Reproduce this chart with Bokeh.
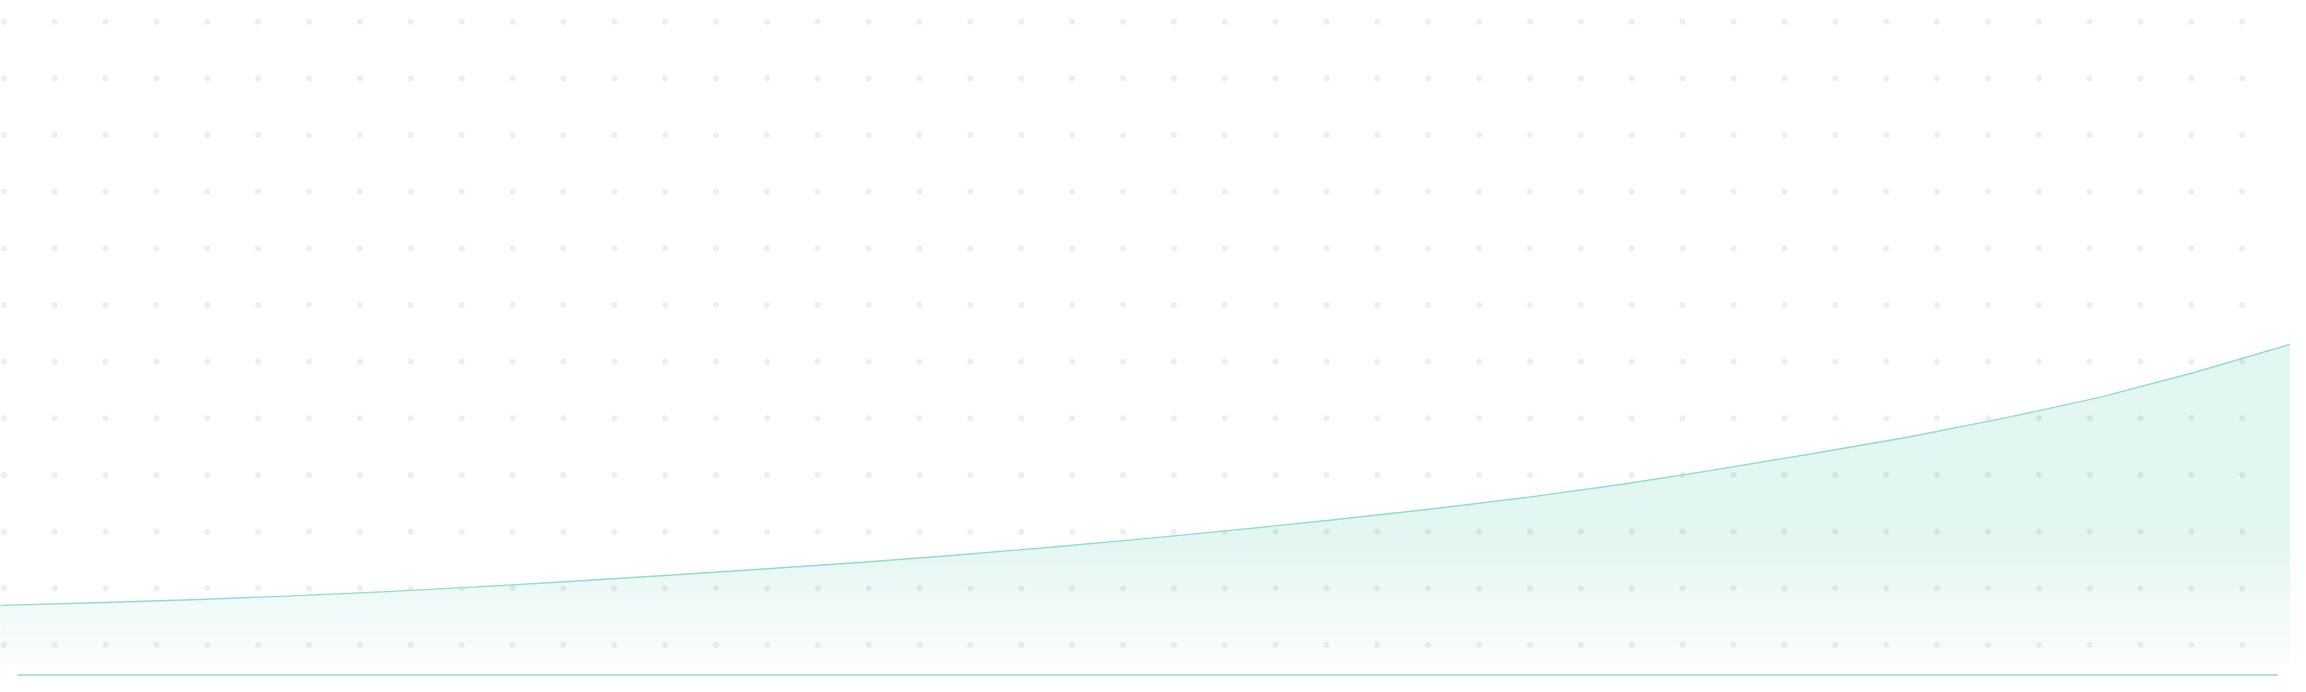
import numpy as np
from bokeh.plotting import figure
from bokeh.models import Range1d, ColumnDataSource
from bokeh.embed import file_html
from bokeh.resources import INLINE

# ---- data -------------------------------------------------------------
periods = list(range(25))
values = [21.1, 21.9, 22.8, 23.9, 25.2, 26.7, 28.4, 30.2, 32.1, 34.1,
          36.3, 38.7, 41.3, 44.1, 47.1, 50.3, 53.8, 57.8, 62.3, 67.1,
          72.1, 77.8, 84.1, 91.7, 100.2]

# ---- layout (reference picture geometry) ------------------------------
W, H = 2290, 676
REF_W, REF_H = 2306, 692
UNIT_PX = 3.38          # reference pixels per value unit
BASE_PY = 690.5         # reference pixel row of value 0
x_lo, x_hi = periods[0], periods[-1]
y_lo = (BASE_PY - REF_H) / UNIT_PX
y_hi = BASE_PY / UNIT_PX


def fx(px):
    return x_lo + px / REF_W * (x_hi - x_lo)


def fy(py):
    return (BASE_PY - py) / UNIT_PX


LINE = "#93dbd1"
FILL = "#e2f6f2"

p = figure(width=W, height=H, x_range=Range1d(x_lo, x_hi), y_range=Range1d(y_lo, y_hi),
           output_backend="svg", toolbar_location=None, min_border=0,
           x_axis_location=None, y_axis_location=None,
           outline_line_color=None, background_fill_color="white",
           border_fill_color="white")
p.grid.visible = False

src = ColumnDataSource(dict(x=periods, y=values))

# area under the curve
p.varea(x="x", y1=0, y2="y", source=src, fill_color=FILL)

# fade of the area towards the baseline (white veil, stronger at the bottom)
fade_top = fy(545)
n = 70
edges = np.linspace(0, fade_top, n + 1)
mids = (edges[:-1] + edges[1:]) / 2
alphas = np.clip(1 - mids / fade_top, 0, 1)
p.quad(left=x_lo, right=x_hi, bottom=edges[:-1], top=edges[1:],
       fill_color="white", fill_alpha=alphas, line_color=None)

# dotted background pattern
cols = np.arange(46)
rows = np.arange(12)
gx, gy = np.meshgrid(fx(3.3 + 51.23 * cols), fy(21.7 + 58.0 * rows))
p.scatter(x=gx.ravel(), y=gy.ravel(), size=6, fill_color="black", fill_alpha=0.065,
          line_color=None)

# curve
p.line(x="x", y="y", source=src, line_color=LINE, line_width=1.4, line_join="round")

# baseline
p.segment(x0=fx(17), y0=0, x1=fx(2293), y1=0, line_color="#a9e3dc", line_width=2)

open("out.html", "w").write(file_html(p, INLINE))
